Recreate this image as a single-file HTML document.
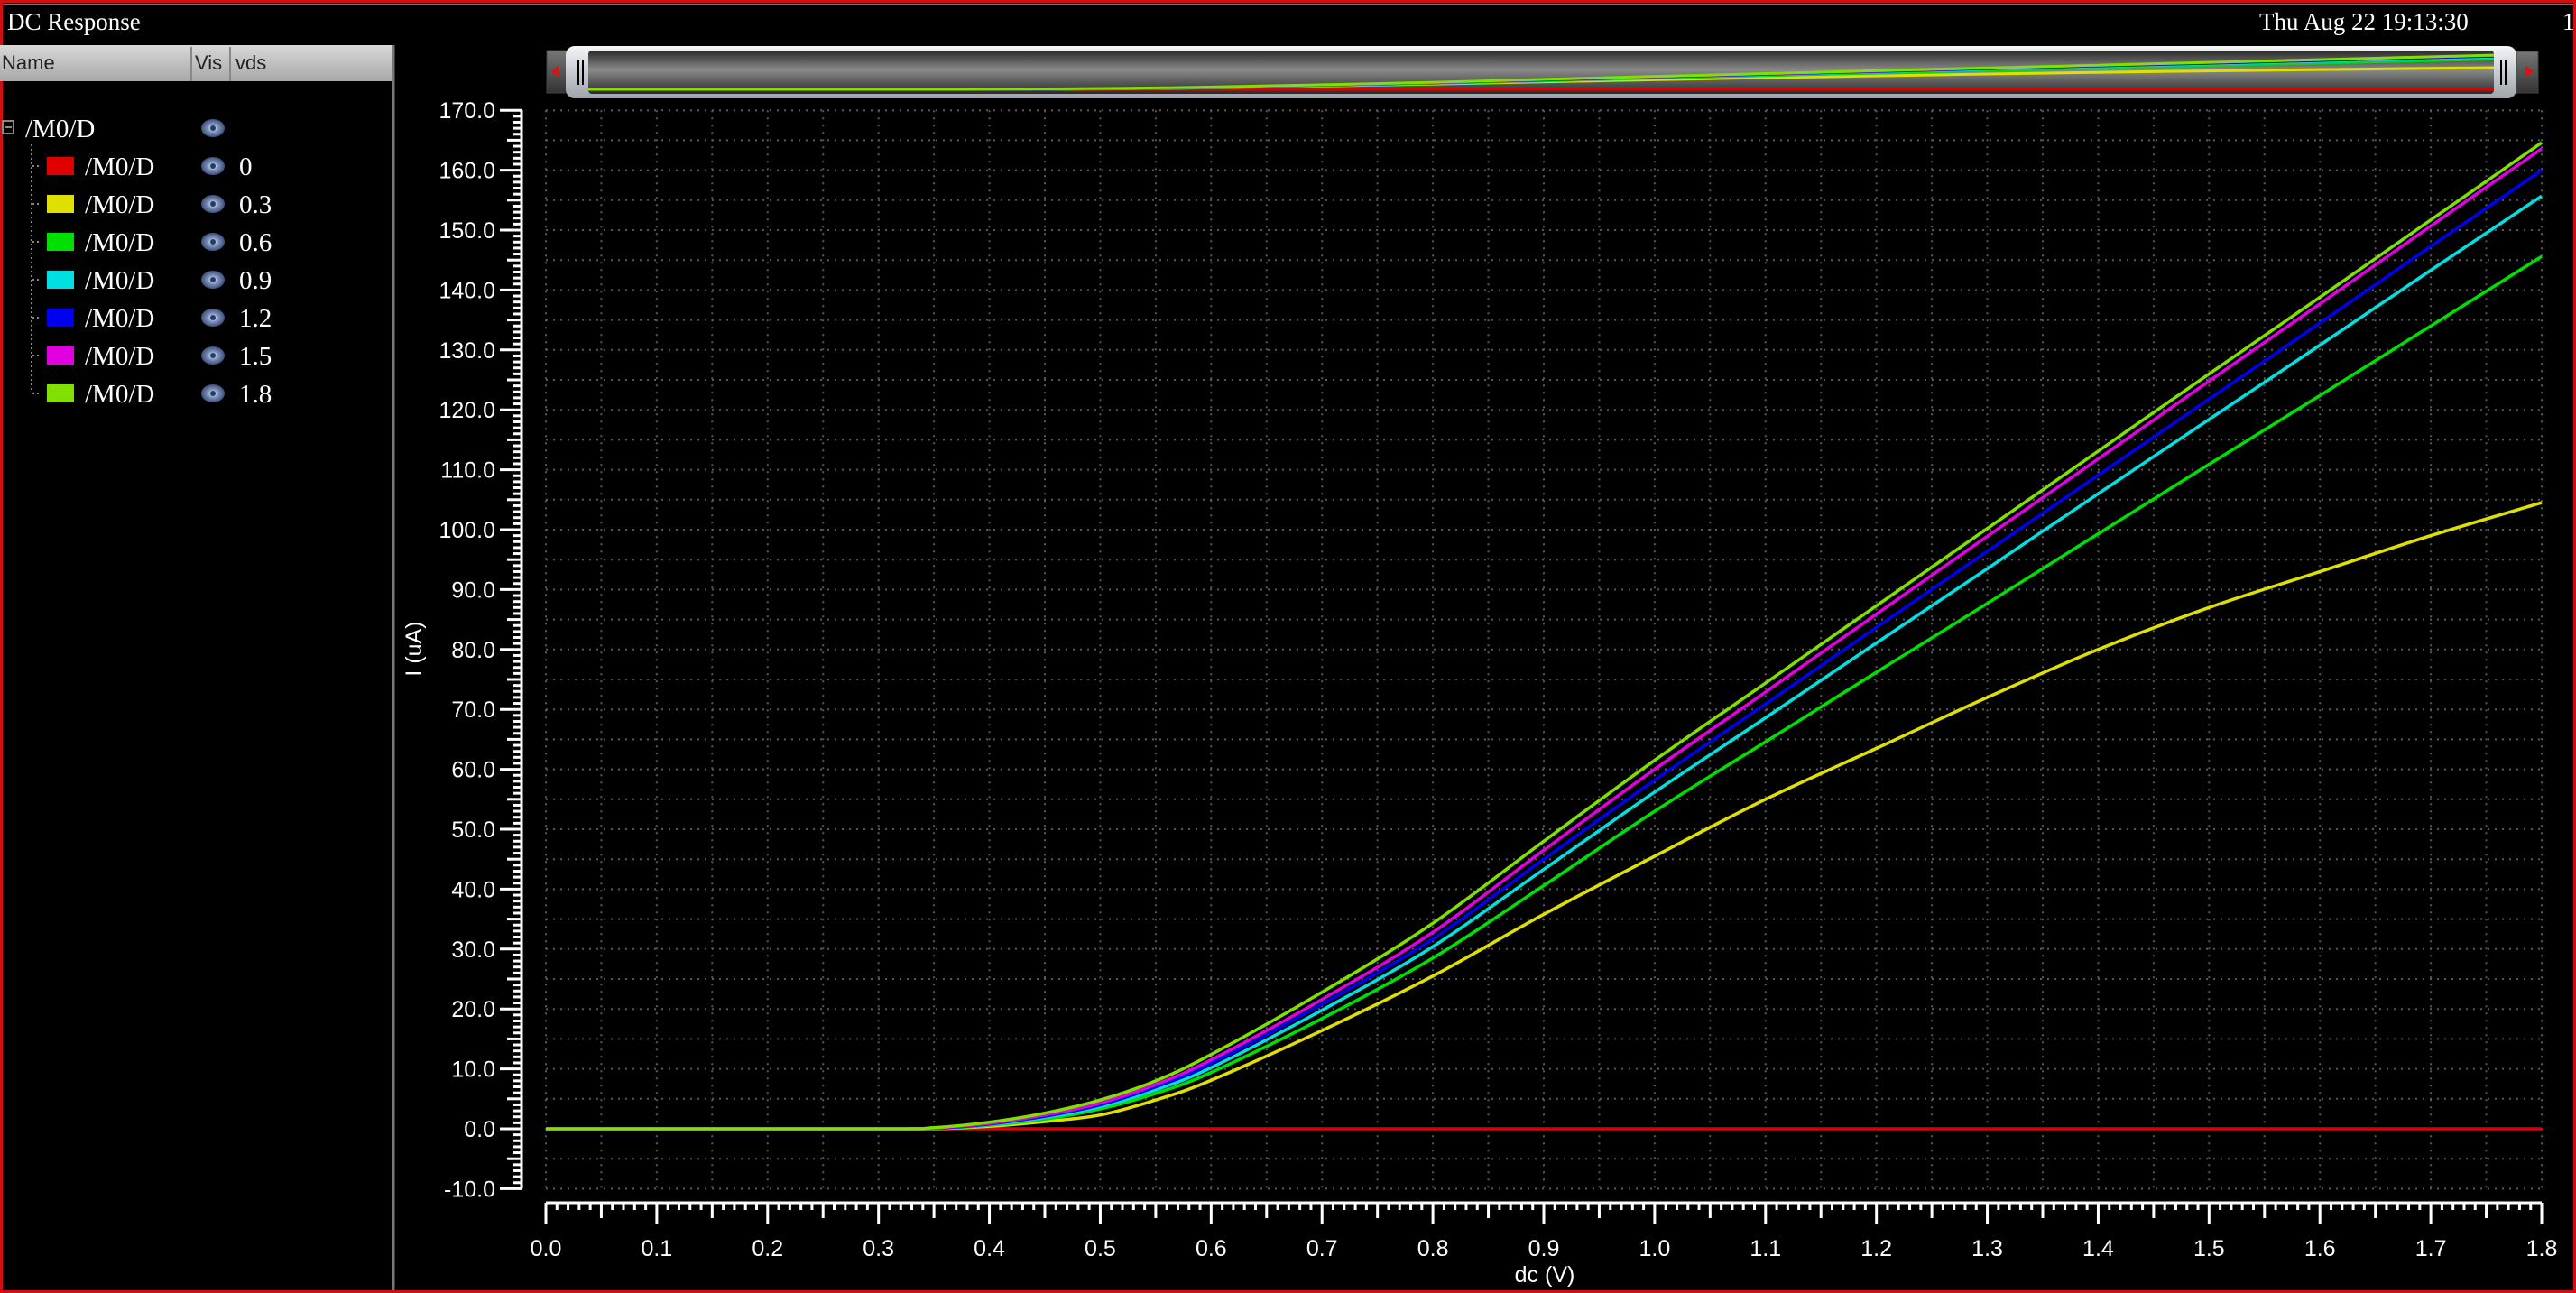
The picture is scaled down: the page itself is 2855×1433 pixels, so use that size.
<!DOCTYPE html>
<html><head><meta charset="utf-8"><style>
html,body{margin:0;padding:0;background:#000;}
body{width:2855px;height:1433px;overflow:hidden;position:relative;}
svg{position:absolute;left:0;top:0;}
</style></head><body>
<svg id="chart" width="2855" height="1433" xmlns="http://www.w3.org/2000/svg">
<defs>
<linearGradient id="hdr" x1="0" y1="0" x2="0" y2="1"><stop offset="0" stop-color="#d8d8d8"/><stop offset="1" stop-color="#a8a8a8"/></linearGradient>
<linearGradient id="slider" x1="0" y1="0" x2="0" y2="1"><stop offset="0" stop-color="#f4f6f8"/><stop offset="0.5" stop-color="#c8ccd2"/><stop offset="1" stop-color="#a0a4aa"/></linearGradient>
<linearGradient id="inner" x1="0" y1="0" x2="0" y2="1"><stop offset="0" stop-color="#2a2a2a"/><stop offset="0.45" stop-color="#8a8a8a"/><stop offset="1" stop-color="#2a2a2a"/></linearGradient>
<linearGradient id="btn" x1="0" y1="0" x2="0" y2="1"><stop offset="0" stop-color="#777"/><stop offset="0.5" stop-color="#555"/><stop offset="1" stop-color="#333"/></linearGradient>
<radialGradient id="eye" cx="0.5" cy="0.5" r="0.5"><stop offset="0" stop-color="#ffffff"/><stop offset="0.45" stop-color="#7f95c0"/><stop offset="1" stop-color="#3d4f78"/></radialGradient>
</defs>
<rect x="0" y="0" width="2855" height="1433" fill="#000"/>
<rect x="1.5" y="1.5" width="2852" height="1430" fill="none" stroke="#d01010" stroke-width="3"/>
<line x1="3" y1="5" x2="2852" y2="5" stroke="#777" stroke-width="2"/>
<text x="8" y="33" font-family="Liberation Serif, serif" font-size="27" fill="#fff">DC Response</text>
<text x="2504" y="33" font-family="Liberation Serif, serif" font-size="27" fill="#fff">Thu Aug 22 19:13:30</text>
<text x="2840" y="33" font-family="Liberation Serif, serif" font-size="27" fill="#fff">1</text>

<g>
<rect x="0" y="50" width="437" height="40" fill="url(#hdr)"/>
<line x1="212" y1="52" x2="212" y2="90" stroke="#888" stroke-width="2"/>
<line x1="255" y1="52" x2="255" y2="90" stroke="#888" stroke-width="2"/>
<text x="2" y="77" font-family="Liberation Sans, sans-serif" font-size="22" fill="#222">Name</text>
<text x="216" y="77" font-family="Liberation Sans, sans-serif" font-size="22" fill="#222">Vis</text>
<text x="261" y="77" font-family="Liberation Sans, sans-serif" font-size="22" fill="#222">vds</text>
<line x1="436" y1="50" x2="436" y2="1430" stroke="#777" stroke-width="3"/>
</g>
<g id="tree"></g>

<g>
<rect x="606" y="56" width="22" height="47" fill="url(#btn)" stroke="#444"/>
<polygon points="611,79 619,73 619,85" fill="#e01010"/>
<rect x="2789" y="57" width="24" height="46" fill="url(#btn)" stroke="#444"/>
<polygon points="2808,79 2799,73 2799,85" fill="#e01010"/>
<rect x="627" y="51" width="2162" height="58" rx="10" fill="url(#slider)"/>
<rect x="652" y="56" width="2112" height="48" rx="4" fill="url(#inner)"/>
<line x1="641" y1="66" x2="641" y2="94" stroke="#000" stroke-width="2"/><line x1="646" y1="66" x2="646" y2="94" stroke="#000" stroke-width="2"/>
<line x1="2772" y1="66" x2="2772" y2="94" stroke="#000" stroke-width="2"/><line x1="2777" y1="66" x2="2777" y2="94" stroke="#000" stroke-width="2"/>
<g id="mini"></g>
</g>

<g id="grid"></g>
<g id="axes"></g>
<g id="series"></g>
<text x="1712" y="1421" text-anchor="middle" font-family="Liberation Sans, sans-serif" font-size="25" fill="#fff">dc (V)</text>
<text transform="translate(467,719) rotate(-90)" text-anchor="middle" font-family="Liberation Sans, sans-serif" font-size="25" fill="#fff">I (uA)</text>
</svg>
<script>
const xVals = [0,0.3,0.35,0.4,0.45,0.5,0.55,0.6,0.7,0.8,0.9,1.0,1.1,1.2,1.3,1.4,1.5,1.6,1.7,1.8];
const vdsLabels = ["0","0.3","0.6","0.9","1.2","1.5","1.8"];
const seriesColors = ["#e00000","#e0e000","#00e000","#00e0e0","#0000f0","#e000e0","#80e000"];
const id0 = [0,0,0,0,0,0,0,0,0,0,0,0,0,0,0,0,0,0,0,0];
const id03 = [0,0,0,0.4,1.2,2.3,4.8,8.1,16.4,25.5,35.8,45.5,55,63.5,72,80,87,93,99,104.5];
const id06 = [0,0,0.05,0.6,1.6,3.3,5.9,9.4,18.4,28.5,40.6,53,64.6,76.2,87.7,99.3,110.9,122.4,134,145.6];
const id09 = [0,0,0.1,0.7,1.9,3.7,6.5,10.2,19.8,30.4,43.3,56.2,68.6,81.1,93.5,106,118.4,130.8,143.3,155.7];
const id12 = [0,0,0.1,0.8,2.1,4,7,10.9,20.8,31.7,45,58.2,70.9,83.7,96.4,109.1,121.8,134.5,147.3,160];
const id15 = [0,0,0.15,0.9,2.3,4.3,7.4,11.5,21.6,32.8,46.5,60,72.9,85.9,98.9,111.8,124.8,137.7,150.7,163.6];
const id18 = [0,0,0.2,1.1,2.6,4.8,8,12.4,22.8,34.3,48,61.5,74.4,87.3,100.2,113.1,126,138.8,151.7,164.6];
const yTickLabels = ["-10.0","0.0","10.0","20.0","30.0","40.0","50.0","60.0","70.0","80.0","90.0","100.0","110.0","120.0","130.0","140.0","150.0","160.0","170.0"];
const xTickLabels = ["0.0","0.1","0.2","0.3","0.4","0.5","0.6","0.7","0.8","0.9","1.0","1.1","1.2","1.3","1.4","1.5","1.6","1.7","1.8"];

const NS="http://www.w3.org/2000/svg";
const X0=605,X1=2817,Y0=1251,PXU=6.64;
const xs=v=>X0+(X1-X0)*v/1.8;
const ys=v=>Y0-v*PXU;
function mk(tag,attrs,parent){const e=document.createElementNS(NS,tag);for(const k in attrs)e.setAttribute(k,attrs[k]);parent.appendChild(e);return e;}
function smoothPath(P){let d='M'+P[0][0].toFixed(1)+','+P[0][1].toFixed(1);
for(let i=0;i<P.length-1;i++){const p0=P[Math.max(0,i-1)],p1=P[i],p2=P[i+1],p3=P[Math.min(P.length-1,i+2)];
let c1y=p1[1]+(p2[1]-p0[1])/6,c2y=p2[1]-(p3[1]-p1[1])/6;
const lo=Math.min(p1[1],p2[1]),hi=Math.max(p1[1],p2[1]);c1y=Math.min(hi,Math.max(lo,c1y));c2y=Math.min(hi,Math.max(lo,c2y));
const c1x=p1[0]+(p2[0]-p0[0])/6,c2x=p2[0]-(p3[0]-p1[0])/6;
d+=' C'+c1x.toFixed(1)+','+c1y.toFixed(1)+' '+c2x.toFixed(1)+','+c2y.toFixed(1)+' '+p2[0].toFixed(1)+','+p2[1].toFixed(1);}
return d;}
const grid=document.getElementById('grid'),axes=document.getElementById('axes'),ser=document.getElementById('series');

for(let i=0;i<=36;i++){const x=xs(i*0.05);const l=mk('line',{x1:x,y1:ys(170),x2:x,y2:ys(-10),stroke:'#5a5a5a','stroke-width':2,'stroke-dasharray':'2 6'},grid);

}
for(let i=0;i<=36;i++){const y=ys(-10+i*5);const l=mk('line',{x1:X0,y1:y,x2:X1,y2:y,stroke:'#5a5a5a','stroke-width':2,'stroke-dasharray':'2 6'},grid);

}
const yax=mk('line',{x1:578,y1:ys(170),x2:578,y2:ys(-10),stroke:'#fff','stroke-width':3},axes);


for(let v=-10;v<=170;v++){const y=ys(v);const len=(v%10===0)?24:(v%5===0)?16:9;mk('line',{x1:578-len,y1:y,x2:578,y2:y,stroke:'#fff','stroke-width':3},axes);}
yTickLabels.forEach((t,i)=>{const v=-10+i*10;const e=mk('text',{x:549,y:ys(v)+9,'text-anchor':'end','font-family':'Liberation Sans, sans-serif','font-size':25,fill:'#fff'},axes);e.textContent=t;

});
const xax=mk('line',{x1:X0,y1:1333,x2:X1,y2:1333,stroke:'#fff','stroke-width':3},axes);


for(let i=0;i<=180;i++){const x=xs(i/100);const len=(i%10===0)?24:(i%5===0)?17:8;mk('line',{x1:x,y1:1333,x2:x,y2:1333+len,stroke:'#fff','stroke-width':3},axes);}
xTickLabels.forEach((t,i)=>{const e=mk('text',{x:xs(i*0.1),y:1392,'text-anchor':'middle','font-family':'Liberation Sans, sans-serif','font-size':25,fill:'#fff'},axes);e.textContent=t;

});
const all=[id0,id03,id06,id09,id12,id15,id18];
all.forEach((arr,si)=>{const P=arr.map((v,i)=>[xs(xVals[i]),ys(v)]);
const p=mk('path',{d:smoothPath(P),fill:'none',stroke:seriesColors[si],'stroke-width':3.5,'stroke-linejoin':'round'},ser);

});
const mini=document.getElementById('mini');
const mx=v=>652+2112*v/1.8, my=v=>99-v*0.23;
all.forEach((arr,si)=>{const pts=arr.map((v,i)=>mx(xVals[i]).toFixed(1)+','+my(v).toFixed(1)).join(' ');
const p=mk('polyline',{points:pts,fill:'none',stroke:seriesColors[si],'stroke-width':3},mini);

});
const tree=document.getElementById('tree');


mk('line',{x1:35,y1:160,x2:35,y2:436,stroke:'#888','stroke-width':2,'stroke-dasharray':'2 3'},tree);
mk('rect',{x:3,y:134,width:12,height:14,fill:'none',stroke:'#888','stroke-width':2},tree);
mk('line',{x1:5,y1:141,x2:13,y2:141,stroke:'#888','stroke-width':2},tree);
const root=mk('text',{x:28,y:152,'font-family':'Liberation Serif, serif','font-size':29,fill:'#fff'},tree);root.textContent='/M0/D';


function eye(cy){const g=mk('g',{},tree);

mk('ellipse',{cx:236,cy:cy,rx:13,ry:10,fill:'url(#eye)'},g);mk('circle',{cx:236,cy:cy,r:3,fill:'#2a3a60'},g);}
eye(142);
vdsLabels.forEach((lab,i)=>{const cy=184+i*42;
mk('line',{x1:36,y1:cy,x2:46,y2:cy,stroke:'#888','stroke-width':2,'stroke-dasharray':'2 3'},tree);
const sw=mk('rect',{x:52,y:cy-10,width:30,height:20,fill:seriesColors[i]},tree);


const t=mk('text',{x:94,y:cy+10,'font-family':'Liberation Serif, serif','font-size':29,fill:'#fff'},tree);t.textContent='/M0/D';


eye(cy);
const v=mk('text',{x:265,y:cy+10,'font-family':'Liberation Serif, serif','font-size':29,fill:'#fff'},tree);v.textContent=lab;

});
</script>
</body></html>
